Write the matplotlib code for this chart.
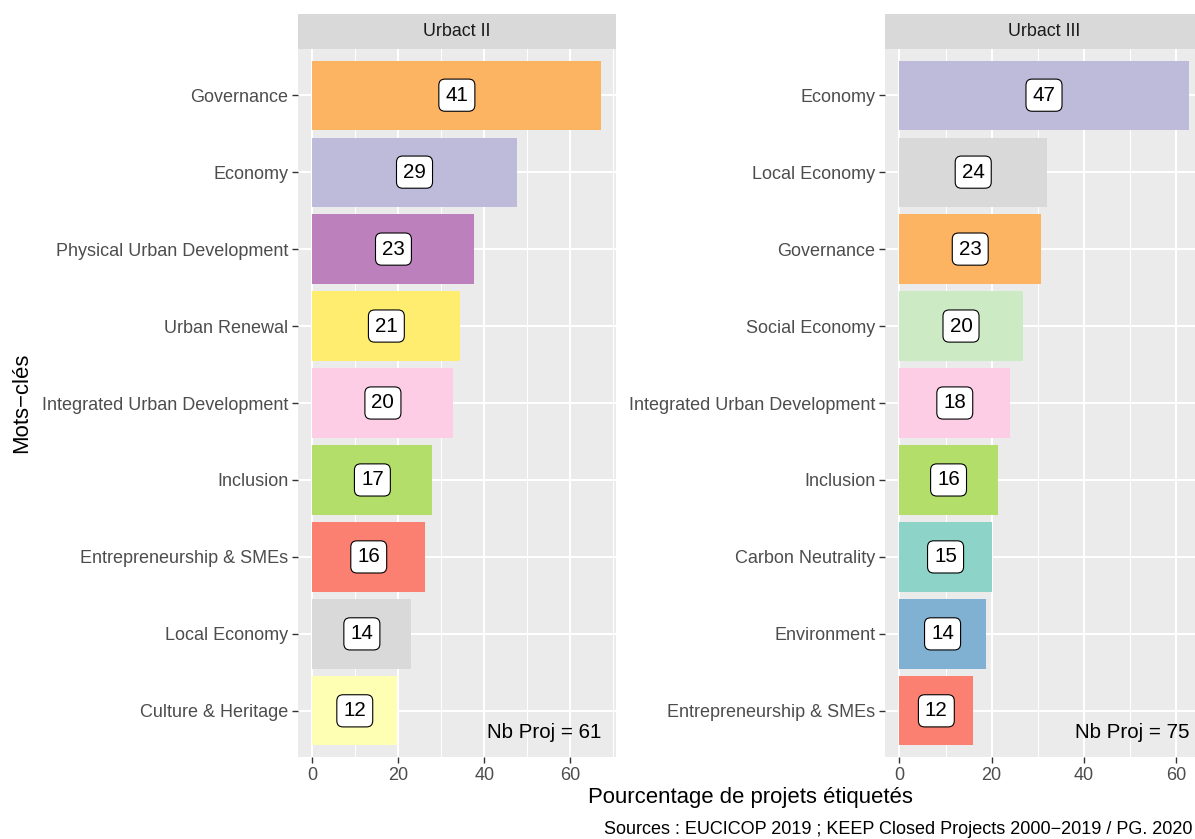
import matplotlib
matplotlib.use("Agg")
import matplotlib.pyplot as plt
import matplotlib.transforms as mtrans

plt.rcParams['font.family'] = ['Liberation Sans', 'DejaVu Sans']

# ---- data ----
panels = ["Urbact II", "Urbact III"]
nb_proj = [61, 75]

cats_ii = ["Governance", "Economy", "Physical Urban Development", "Urban Renewal",
           "Integrated Urban Development", "Inclusion", "Entrepreneurship & SMEs",
           "Local Economy", "Culture & Heritage"]
counts_ii = [41, 29, 23, 21, 20, 17, 16, 14, 12]
pct_ii = [67.2, 47.5, 37.7, 34.4, 32.8, 27.9, 26.2, 23.0, 19.7]

cats_iii = ["Economy", "Local Economy", "Governance", "Social Economy",
            "Integrated Urban Development", "Inclusion", "Carbon Neutrality",
            "Environment", "Entrepreneurship & SMEs"]
counts_iii = [47, 24, 23, 20, 18, 16, 15, 14, 12]
pct_iii = [62.7, 32.0, 30.7, 26.7, 24.0, 21.3, 20.0, 18.7, 16.0]

colors = {
    "Governance": "#FDB462", "Economy": "#BEBADA",
    "Physical Urban Development": "#BC80BD", "Urban Renewal": "#FFED6F",
    "Integrated Urban Development": "#FCCDE5", "Inclusion": "#B3DE69",
    "Entrepreneurship & SMEs": "#FB8072", "Local Economy": "#D9D9D9",
    "Culture & Heritage": "#FFFFB3", "Social Economy": "#CCEBC5",
    "Carbon Neutrality": "#8DD3C7", "Environment": "#80B1D3",
}

xticks = [0, 20, 40, 60]
xminor = [10, 30, 50, 70]

W, H = 1195, 839
fig = plt.figure(figsize=(W / 100, H / 100), dpi=100)
fig.patch.set_facecolor("white")

def px_axes(x0, y0, x1, y1):
    return fig.add_axes([x0 / W, 1 - y1 / H, (x1 - x0) / W, (y1 - y0) / H])

panel_px = [(298, 49, 615.7, 757), (885, 49, 1203, 757)]
strip_top = 14

datasets = [(cats_ii, counts_ii, pct_ii), (cats_iii, counts_iii, pct_iii)]

for (x0, y0, x1, y1), (cats, counts, pct), title, n in zip(panel_px, datasets, panels, nb_proj):
    ax = px_axes(x0, y0, x1, y1)
    ax.set_facecolor("#EBEBEB")
    ypos = list(range(len(cats)))
    ax.barh(ypos, pct, height=0.9, color=[colors[c] for c in cats], zorder=3)
    for y, v, c in zip(ypos, pct, counts):
        ax.text(v / 2, y, str(c), ha="center", va="center", fontsize=14.8, color="black",
                zorder=5,
                bbox=dict(boxstyle="round,pad=0.32,rounding_size=0.3", fc="white",
                          ec="black", lw=0.8))
    ax.set_yticks(ypos)
    ax.set_yticklabels(cats)
    ax.set_xticks(xticks)
    ax.set_xticks(xminor, minor=True)
    xmax = max(pct)
    ax.set_xlim(-0.05 * xmax, xmax * 1.05)
    ax.set_ylim(len(cats) - 0.4, -0.6)
    ax.grid(True, which="major", color="white", lw=1.5, zorder=1)
    ax.grid(True, which="minor", axis="x", color="white", lw=0.75, zorder=1)
    ax.tick_params(axis="both", which="major", length=4, width=1, color="#333333",
                   labelsize=13.0, labelcolor="#4D4D4D", pad=3)
    ax.tick_params(axis="y", which="minor", left=False)
    ax.tick_params(axis="x", which="minor", bottom=False)
    for s in ax.spines.values():
        s.set_visible(False)
    ax.text(1, 0, f"Nb Proj = {n}", ha="right", va="center", fontsize=14.8, color="black",
            transform=ax.transAxes + mtrans.ScaledTranslation(-14 / 100, 24 / 100, fig.dpi_scale_trans))
    # strip
    sax = px_axes(x0, strip_top, x1, y0)
    sax.set_facecolor("#D9D9D9")
    sax.set_xticks([]); sax.set_yticks([])
    for s in sax.spines.values():
        s.set_visible(False)
    sax.text(0.5, 0.5, title, ha="center", va="center", fontsize=12.9, color="#1A1A1A",
             transform=sax.transAxes)

fig.text(750.5 / W, 1 - 798 / H, "Pourcentage de projets étiquetés", ha="center",
         va="center", fontsize=15.9, color="black")
fig.text(22 / W, 1 - 403 / H, "Mots\u2212clés", ha="center", va="center", rotation=90,
         fontsize=15.9, color="black")
fig.text(1192 / W, 1 - 829 / H,
         "Sources : EUCICOP 2019 ; KEEP Closed Projects 2000\u22122019 / PG. 2020",
         ha="right", va="center", fontsize=13.0, color="black")

fig.savefig("out.png", dpi=100)
